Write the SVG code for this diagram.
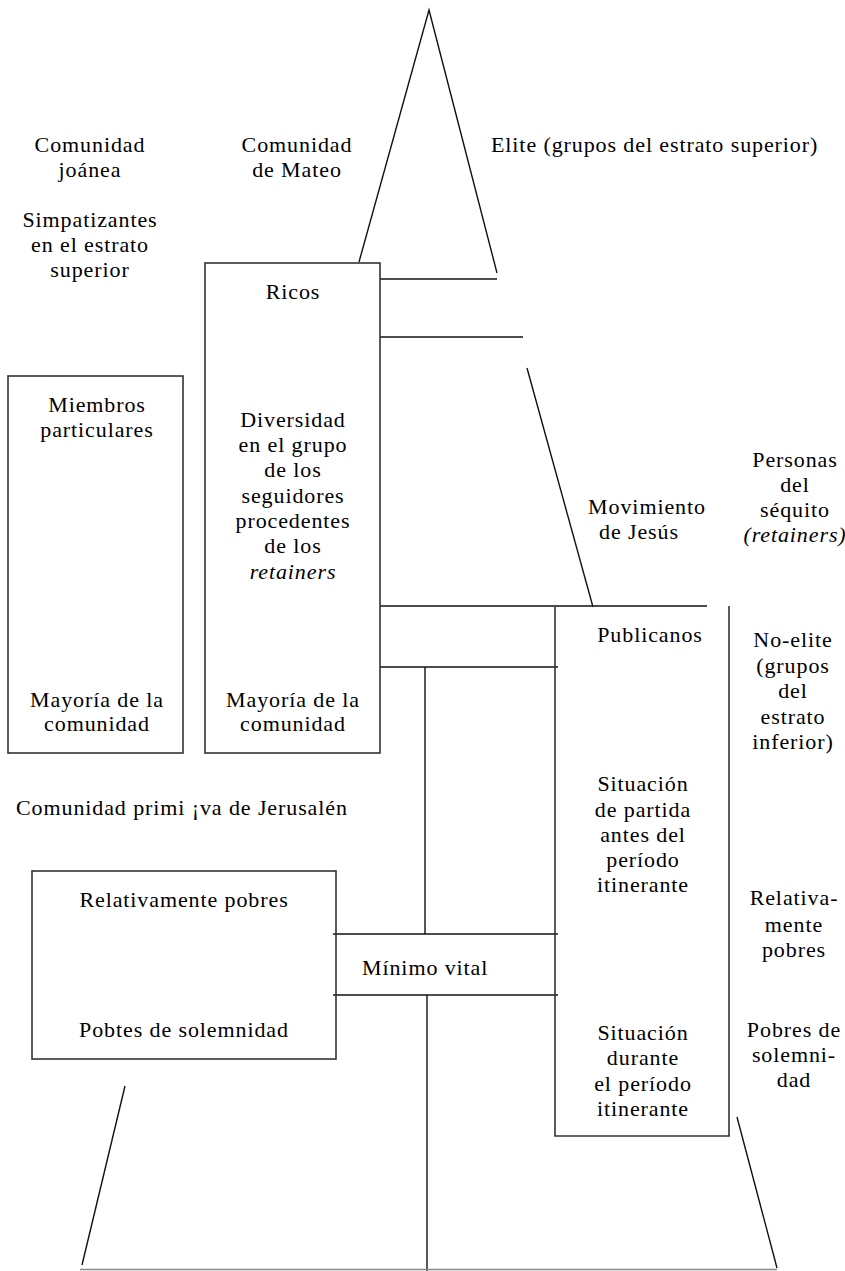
<svg xmlns="http://www.w3.org/2000/svg" width="845" height="1271" viewBox="0 0 845 1271">
<style>
text{font-family:"Liberation Serif","Times New Roman",serif;font-size:22px;fill:#000;letter-spacing:0.9px}
.m{text-anchor:middle}
.i{font-style:italic}
.ln{stroke:#111;stroke-width:1.4;fill:none}
.bx{stroke:#333;stroke-width:1.6;fill:none}
.gr{stroke:#888;stroke-width:1.6;fill:none}
</style>
<rect width="845" height="1271" fill="#fff"/>
<g id="pyramid" class="ln">
<path d="M359 262 L429 10 L497 273"/>
<line x1="380" y1="279" x2="497" y2="279"/>
<line x1="380" y1="337" x2="523" y2="337"/>
<line x1="527" y1="368" x2="593" y2="607"/>
<line x1="125" y1="1086" x2="82" y2="1265"/>
<line x1="737" y1="1117" x2="777" y2="1268"/>
</g>
<g id="connectors" class="ln">
<line x1="380" y1="606" x2="707" y2="606"/>
<line x1="380" y1="667" x2="558" y2="667"/>
<line x1="425" y1="667" x2="425" y2="934"/>
<line x1="333" y1="934" x2="558" y2="934"/>
<line x1="333" y1="995" x2="558" y2="995"/>
<line x1="427" y1="995" x2="427" y2="1271"/>
<line class="gr" x1="80" y1="1269.5" x2="777" y2="1269.5"/>
</g>
<g id="labels-top">
<text class="m" x="90" y="152">Comunidad</text>
<text class="m" x="90" y="177">joánea</text>
<text class="m" x="297" y="152">Comunidad</text>
<text class="m" x="297" y="177">de Mateo</text>
<text x="491" y="152">Elite (grupos del estrato superior)</text>
<text class="m" x="90" y="227">Simpatizantes</text>
<text class="m" x="90" y="252">en el estrato</text>
<text class="m" x="90" y="277">superior</text>
</g>
<g id="box-joanea">
<rect class="bx" x="8" y="376" width="175" height="377"/>
<text class="m" x="97" y="412">Miembros</text>
<text class="m" x="97" y="437">particulares</text>
<text class="m" x="97" y="707">Mayoría de la</text>
<text class="m" x="97" y="731">comunidad</text>
</g>
<g id="box-mateo">
<rect class="bx" x="205" y="263" width="175" height="490"/>
<text class="m" x="293" y="299">Ricos</text>
<text class="m" x="293" y="427">Diversidad</text>
<text class="m" x="293" y="452">en el grupo</text>
<text class="m" x="293" y="477">de los</text>
<text class="m" x="293" y="503">seguidores</text>
<text class="m" x="293" y="528">procedentes</text>
<text class="m" x="293" y="553">de los</text>
<text class="m i" x="293" y="579">retainers</text>
<text class="m" x="293" y="707">Mayoría de la</text>
<text class="m" x="293" y="731">comunidad</text>
</g>
<g id="movimiento">
<text class="m" x="647" y="514">Movimiento</text>
<text class="m" x="639" y="539">de Jesús</text>
</g>
<g id="retainers">
<text class="m" x="795" y="467">Personas</text>
<text class="m" x="795" y="492">del</text>
<text class="m" x="795" y="517">séquito</text>
<text class="m i" x="795" y="542">(retainers)</text>
</g>
<g id="box-jesus">
<path class="bx" d="M555 607 V1136 H730 M729 606 V1136"/>
<text class="m" x="650" y="642">Publicanos</text>
<text class="m" x="643" y="791">Situación</text>
<text class="m" x="643" y="817">de partida</text>
<text class="m" x="643" y="842">antes del</text>
<text class="m" x="643" y="867">período</text>
<text class="m" x="643" y="892">itinerante</text>
<text class="m" x="643" y="1040">Situación</text>
<text class="m" x="643" y="1065">durante</text>
<text class="m" x="643" y="1091">el período</text>
<text class="m" x="643" y="1116">itinerante</text>
</g>
<g id="no-elite">
<text class="m" x="793" y="647">No-elite</text>
<text class="m" x="793" y="673">(grupos</text>
<text class="m" x="793" y="698">del</text>
<text class="m" x="793" y="724">estrato</text>
<text class="m" x="793" y="749">inferior)</text>
<text class="m" x="794" y="905">Relativa-</text>
<text class="m" x="794" y="932">mente</text>
<text class="m" x="794" y="957">pobres</text>
<text class="m" x="794" y="1037">Pobres de</text>
<text class="m" x="794" y="1062">solemni-</text>
<text class="m" x="794" y="1087">dad</text>
</g>
<g id="jerusalen">
<text x="16" y="815">Comunidad primi ¡va de Jerusalén</text>
<rect class="bx" x="32" y="871" width="304" height="188"/>
<text class="m" x="184" y="907">Relativamente pobres</text>
<text class="m" x="184" y="1037">Pobtes de solemnidad</text>
</g>
<g id="minimo">
<text x="362" y="975">Mínimo vital</text>
</g>
</svg>
